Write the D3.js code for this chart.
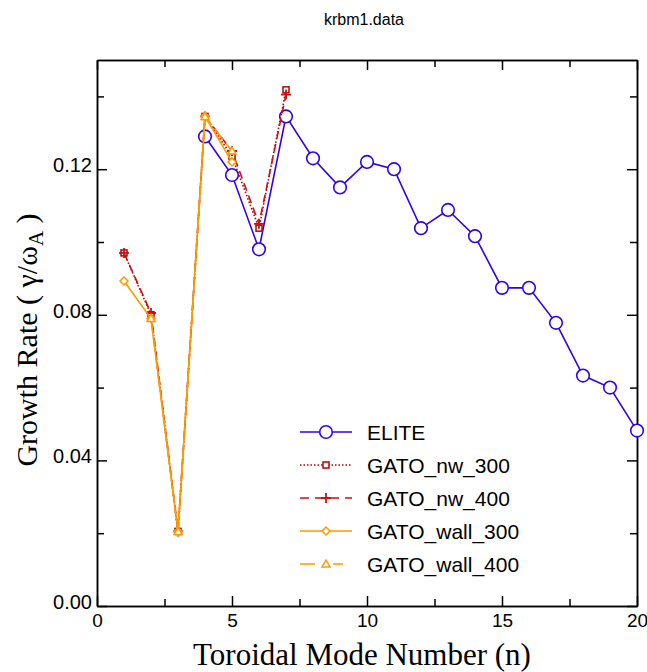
<!DOCTYPE html>
<html>
<head>
<meta charset="utf-8">
<script src="https://cdn.jsdelivr.net/npm/d3@7"></script>
<style>
  body { margin: 0; background: #fff; }
  text { font-family: "Liberation Sans", Arial, sans-serif; }
  .serif { font-family: "Liberation Serif", "Times New Roman", serif; }
</style>
</head>
<body>
<div id="chart"></div>
<script>
// data
const eliteN = [4, 5, 6, 7, 8, 9, 10, 11, 12, 13, 14, 15, 16, 17, 18, 19, 20];
const eliteY = [0.129, 0.1184, 0.098, 0.1345, 0.123, 0.115, 0.122, 0.120, 0.1038, 0.1088, 0.1016, 0.0874, 0.0874, 0.0778, 0.0633, 0.060, 0.0482];
const nw300N = [1, 2, 3, 4, 5, 6, 7];
const nw300Y = [0.097, 0.080, 0.0205, 0.1345, 0.1235, 0.1038, 0.1418];
const nw400N = [1, 2, 3, 4, 5, 6, 7];
const nw400Y = [0.097, 0.0805, 0.0205, 0.1345, 0.125, 0.105, 0.1405];
const wall300N = [1, 2, 3, 4, 5];
const wall300Y = [0.0893, 0.079, 0.0205, 0.1345, 0.122];
const wall400N = [2, 3, 4, 5];
const wall400Y = [0.079, 0.0205, 0.1345, 0.125];
const xTicks = [0, 5, 10, 15, 20];
const yTicks = [0, 0.04, 0.08, 0.12];

const width = 647, height = 672;
const margin = { top: 60, right: 10, bottom: 66, left: 97 };

const svg = d3.select("#chart").append("svg")
    .attr("width", width)
    .attr("height", height);

const x = d3.scaleLinear().domain([0, 20]).range([margin.left, width - margin.right]);
const y = d3.scaleLinear().domain([0, 0.15]).range([height - margin.bottom, margin.top]);

// title
svg.append("text")
    .attr("x", 364)
    .attr("y", 25)
    .attr("text-anchor", "middle")
    .style("font-size", "16px")
    .text("krbm1.data");

// axes, ticks pointing inward on all four sides
const xMinor = [2.5, 7.5, 12.5, 17.5];
const yMinor = [0.02, 0.06, 0.10, 0.14];

svg.append("g")
    .attr("transform", `translate(0,${y(0)})`)
    .call(d3.axisBottom(x).tickValues(xTicks).tickSize(-10).tickSizeOuter(0).tickFormat(d3.format("d")))
    .call(g => g.selectAll("text").style("font-size", "19px").attr("y", 8));
svg.append("g")
    .attr("transform", `translate(0,${y(0)})`)
    .call(d3.axisBottom(x).tickValues(xMinor).tickSize(-7).tickSizeOuter(0).tickFormat(""));
svg.append("g")
    .attr("transform", `translate(0,${y(0.15)})`)
    .call(d3.axisTop(x).tickValues(xTicks).tickSize(-10).tickSizeOuter(0).tickFormat(""));
svg.append("g")
    .attr("transform", `translate(0,${y(0.15)})`)
    .call(d3.axisTop(x).tickValues(xMinor).tickSize(-7).tickSizeOuter(0).tickFormat(""));

svg.append("g")
    .attr("transform", `translate(${x(0)},0)`)
    .call(d3.axisLeft(y).tickValues(yTicks).tickSize(-10).tickSizeOuter(0).tickFormat(d3.format(".2f")))
    .call(g => g.selectAll("text").style("font-size", "20px").attr("x", -5).attr("dy", "0.12em"));
svg.append("g")
    .attr("transform", `translate(${x(0)},0)`)
    .call(d3.axisLeft(y).tickValues(yMinor).tickSize(-7).tickSizeOuter(0).tickFormat(""));
svg.append("g")
    .attr("transform", `translate(${x(20)},0)`)
    .call(d3.axisRight(y).tickValues(yTicks).tickSize(-10).tickSizeOuter(0).tickFormat(""));
svg.append("g")
    .attr("transform", `translate(${x(20)},0)`)
    .call(d3.axisRight(y).tickValues(yMinor).tickSize(-7).tickSizeOuter(0).tickFormat(""));

svg.selectAll(".domain").attr("stroke", "#000").attr("stroke-width", 1.5);
svg.selectAll(".tick line").attr("stroke", "#000").attr("stroke-width", 1.5);

// axis titles
svg.append("text")
    .attr("class", "serif")
    .attr("x", 362)
    .attr("y", 665)
    .attr("text-anchor", "middle")
    .style("font-size", "31px")
    .text("Toroidal Mode Number (n)");

const yt = svg.append("text")
    .attr("class", "serif")
    .attr("transform", `translate(37,340) rotate(-90)`)
    .attr("text-anchor", "middle")
    .style("font-size", "30px");
yt.append("tspan").text("Growth Rate ( γ/ω");
yt.append("tspan").attr("dy", 6).style("font-size", "21px").text("A");
yt.append("tspan").attr("dy", -6).text(" )");

const line = d3.line().x(d => x(d[0])).y(d => y(d[1]));

const series = [
  { name: "ELITE", n: eliteN, v: eliteY, color: "#3300ee", dash: null, legendDash: null, marker: "circle" },
  { name: "GATO_nw_300", n: nw300N, v: nw300Y, color: "#b80000", dash: "1.5,2", legendDash: "1.5,2", marker: "square" },
  { name: "GATO_nw_400", n: nw400N, v: nw400Y, color: "#cc1111", dash: "8,5", legendDash: "9,6", marker: "plus" },
  { name: "GATO_wall_300", n: wall300N, v: wall300Y, color: "#ff9900", dash: null, legendDash: null, marker: "diamond" },
  { name: "GATO_wall_400", n: wall400N, v: wall400Y, color: "#ff9900", dash: "14,5", legendDash: "15,18,10,20", marker: "triangle" }
];

function drawMarker(g, type, cx, cy, color) {
  if (type === "circle") {
    g.append("circle").attr("cx", cx).attr("cy", cy).attr("r", 6.3)
      .attr("fill", "#fff").attr("stroke", color).attr("stroke-width", 1.6);
  } else if (type === "square") {
    g.append("rect").attr("x", cx - 3).attr("y", cy - 3).attr("width", 6).attr("height", 6)
      .attr("fill", "#fff").attr("stroke", color).attr("stroke-width", 1.5);
  } else if (type === "plus") {
    g.append("path").attr("d", `M${cx - 5},${cy}H${cx + 5}M${cx},${cy - 5}V${cy + 5}`)
      .attr("stroke", color).attr("stroke-width", 1.8).attr("fill", "none");
  } else if (type === "diamond") {
    g.append("path").attr("d", `M${cx},${cy - 4}L${cx + 4},${cy}L${cx},${cy + 4}L${cx - 4},${cy}Z`)
      .attr("fill", "#fff").attr("stroke", color).attr("stroke-width", 1.5);
  } else if (type === "triangle") {
    g.append("path").attr("d", `M${cx},${cy - 4}L${cx + 4},${cy + 3}L${cx - 4},${cy + 3}Z`)
      .attr("fill", "#fff").attr("stroke", color).attr("stroke-width", 1.5);
  }
}

// ELITE at the bottom, orange GATO traces on top as in the picture
const plot = svg.append("g");
[series[0], series[1], series[2], series[3], series[4]].forEach(s => {
  const pts = s.n.map((n, i) => [n, s.v[i]]);
  plot.append("path")
      .datum(pts)
      .attr("d", line)
      .attr("fill", "none")
      .attr("stroke", s.color)
      .attr("stroke-width", 1.6)
      .attr("stroke-dasharray", s.dash);
  const mg = plot.append("g");
  pts.forEach(p => drawMarker(mg, s.marker, x(p[0]), y(p[1]), s.color));
});

// legend
const legend = svg.append("g");
series.forEach((s, i) => {
  const ly = 432 + i * 33;
  legend.append("line")
      .attr("x1", 300).attr("x2", s.marker === "triangle" ? 343 : 352)
      .attr("y1", ly).attr("y2", ly)
      .attr("stroke", s.color)
      .attr("stroke-width", 1.6)
      .attr("stroke-dasharray", s.legendDash);
  drawMarker(legend, s.marker, 326, ly, s.color);
  legend.append("text")
      .attr("x", 367)
      .attr("y", ly + 7.5)
      .style("font-size", "21px")
      .text(s.name);
});
</script>
</body>
</html>
